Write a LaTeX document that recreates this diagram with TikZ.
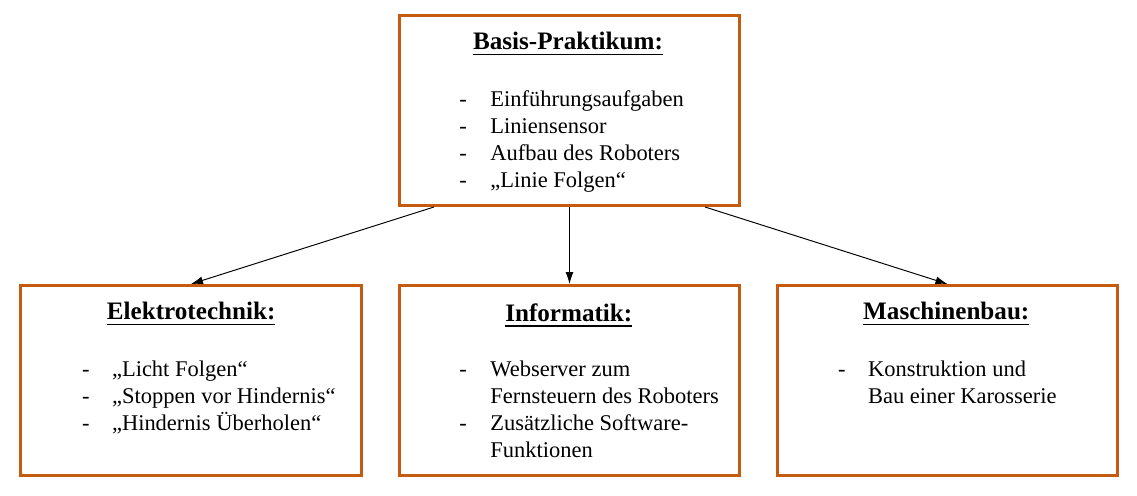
\documentclass[tikz,border=0pt]{standalone}
\usepackage{fontspec}
\setmainfont{Liberation Serif}
\usepackage{xcolor}
\usetikzlibrary{arrows.meta}

\definecolor{rahmen}{HTML}{C55A11}
\newsavebox{\titelbox}
\newcommand{\unterstr}[1]{\sbox{\titelbox}{#1}\rlap{\rule[-3.2pt]{\wd\titelbox}{0.75pt}}\usebox{\titelbox}}

\tikzset{
    box/.style={draw=rahmen, line width=0.06cm, rectangle, minimum width=6.82cm, minimum height=3.8cm, inner sep=0pt},
    titel/.style={anchor=base, inner sep=0pt, font=\fontsize{14.3}{17}\selectfont\bfseries},
    liste/.style={anchor=base west, inner sep=0pt, font=\fontsize{12.8}{15.36}\selectfont},
    pfeil/.style={-{Latex[length=2.4mm,width=1.6mm]}, line width=0.55pt}
}

\begin{document}
\begin{tikzpicture}[x=0.02cm, y=-0.02cm]
    \useasboundingbox (0,0) rectangle (1137,495);

    % Boxes
    \node[box] (basis) at (569.5, 110.5) {};
    \node[box] (etech) at (191, 380.5) {};
    \node[box] (info) at (569.5, 380.5) {};
    \node[box] (mbau) at (947.5, 380.5) {};

    % Titles
    \node[titel] (basisT) at (568, 49.3) {\unterstr{Basis-Praktikum:}};
    \node[titel] (etechT) at (191.2, 319.3) {\unterstr{Elektrotechnik:}};
    \node[titel] (infoT) at (568.8, 321) {\unterstr{Informatik:}};
    \node[titel] (mbauT) at (946.3, 319.3) {\unterstr{Maschinenbau:}};

    % Lists
    \node[liste] (basisL) at (459, 106.7) {\begin{tabular}[t]{@{}p{0.62cm}@{}l@{}}
        - & Einführungsaufgaben\\
        - & Liniensensor\\
        - & Aufbau des Roboters\\
        - & „Linie Folgen“
    \end{tabular}};
    \node[liste] (etechL) at (81.7, 376.7) {\begin{tabular}[t]{@{}p{0.6cm}@{}l@{}}
        - & „Licht Folgen“\\
        - & „Stoppen vor Hindernis“\\
        - & „Hindernis Überholen“
    \end{tabular}};
    \node[liste] (infoL) at (459, 376.7) {\begin{tabular}[t]{@{}p{0.62cm}@{}l@{}}
        - & Webserver zum\\
          & Fernsteuern des Roboters\\
        - & Zusätzliche Software-\\
          & Funktionen
    \end{tabular}};
    \node[liste] (mbauL) at (837.7, 376.7) {\begin{tabular}[t]{@{}p{0.6cm}@{}l@{}}
        - & Konstruktion und\\
          & Bau einer Karosserie
    \end{tabular}};

    % Connections
    \draw[pfeil] ([xshift=-2.71cm]basis.south) -- (etech.north);
    \draw[pfeil] (basis.south) -- (info.north);
    \draw[pfeil] ([xshift=2.71cm]basis.south) -- (mbau.north);
\end{tikzpicture}
\end{document}
